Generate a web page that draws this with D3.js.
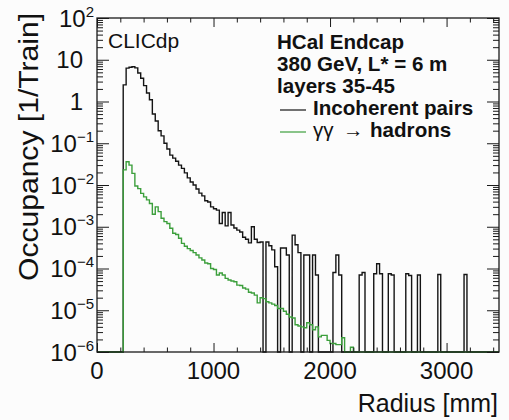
<!DOCTYPE html>
<html><head><meta charset="utf-8">
<script src="https://cdn.jsdelivr.net/npm/d3@7"></script>
<style>
html,body{margin:0;padding:0;background:#fcfcfc;}
svg{display:block;font-family:"Liberation Sans",Arial,Helvetica,sans-serif;}
</style></head><body>
<svg id="chart" width="509" height="420"></svg>
<script>
// Histogram binning in radius (mm)
const binWidth = 25;
const radiusRange = [0, 3450];

// Occupancy per bin [1/Train], 25 mm bins starting at 0
const incoherentPairs = [
  0,0,0,0,0,0,0,0,0,
  2.5,6.3,6.6,6.8,6.4,4.8,3.6,2.4,1.6,1.1,
  0.5,0.34,0.2,0.15,0.10,0.073,0.052,0.044,0.037,0.030,
  0.025,0.0195,0.0148,0.0118,0.0100,0.0080,0.0064,0.0055,0.0042,0.0039,
  0.0030,0.0027,0.0025,0.0012,0.0022,0.00105,0.0022,0.0011,0.00093,0.00083,
  0.00075,0.00056,0.0005,0.00041,0.001,0.0005,0.00042,0.00043,0,0.00043,
  0.00035,0.00028,0.00011,0,0.00031,0.00031,0.00021,0,0.00063,0.00037,
  0.00024,0,0.00021,0.00021,0,0.00021,0.00007,0,0,0,
  0,0,0.00008,0.00021,0.00007,0,0,0,0,0,
  0,0.00007,0.00008,0,0,0,0.000075,0.00013,0.000075,0,
  0,0.000075,0.00007,0,0,0,0,0.000075,0.000068,0,
  0,0.00007,0,0,0,0,0,0,0.000072,0,
  0,0,0,0,0,0,0,0.000072,0,0,
  0,0,0,0,0,0,0,0,0
];
const gammaGammaHadrons = [
  0,0,0,0,0,0,0,0,0,
  0.023,0.036,0.030,0.019,0.0095,0.0082,0.0063,0.0052,0.0044,0.0036,
  0.0020,0.0030,0.0023,0.0016,0.00133,0.0012,0.00092,0.00070,0.00065,0.00053,
  0.00040,0.00034,0.00030,0.00027,0.00024,0.00021,0.00018,0.00016,0.000135,0.00013,
  0.00010,0.000095,0.00007,0.000078,0.00007,0.000058,0.000053,0.00005,0.000048,0.00004,
  0.000039,0.000034,0.000032,0.000027,0.000026,0.000023,0.000015,0.00002,0.000019,0.000016,
  0.000015,0.000014,0.000013,0.000011,0.000011,0.0000095,0.000008,0.0000069,0.0000065,0.0000045,
  0.0000042,0.000004,0.0000038,0.000005,0.0000045,0.0000034,0.000004,0.0000023,0.0000025,0.0000025,
  0.0000019,0.0000016,0.0000016,0.0000015,0.0000015,0.0000022,0,0,0.0000013,0,
  0,0,0,0,0,0,0,0,0,0,
  0,0,0,0,0,0,0,0,0,0,
  0,0,0,0,0,0,0,0,0,0,
  0,0,0,0,0,0,0,0,0,0,
  0,0,0,0,0,0,0,0,0
];

// Axis ticks and labels
const xTickValues = [0, 1000, 2000, 3000];
const xTickLabels = ["0", "1000", "2000", "3000"];
const yTickValues = [1e2, 1e1, 1, 1e-1, 1e-2, 1e-3, 1e-4, 1e-5, 1e-6];
const yTickBase = ["10", "10", "1", "10", "10", "10", "10", "10", "10"];
const yTickExp = ["2", "", "", "\u22121", "\u22122", "\u22123", "\u22124", "\u22125", "\u22126"];

// Texts
const legendHeader = ["HCal Endcap", "380 GeV, L* = 6 m", "layers 35-45"];
const seriesNames = ["Incoherent pairs", "hadrons"];
const seriesColors = ["#141414", "#3c9f3c"];

const svg = d3.select("#chart");
const W = 509, H = 420;
svg.append("rect").attr("width", W).attr("height", H).attr("fill", "#fcfcfc");

const frame = {left: 97, right: 499, top: 18, bottom: 352};
const yMin = 1e-6, yMax = 1e2;

const x = d3.scaleLinear().domain(radiusRange).range([frame.left, frame.right]);
const y = d3.scaleLog().domain([yMin, yMax]).range([frame.bottom, frame.top]);

// Step outline of a histogram, empty bins fall to the frame floor
function stepPoints(vals) {
  const pts = vals.map((v, i) => [i * binWidth, v]);
  pts.push([vals.length * binWidth, vals[vals.length - 1]]);
  return pts;
}
const stepLine = d3.line()
  .x(d => x(d[0]))
  .y(d => y(Math.max(d[1], yMin)))
  .curve(d3.curveStepAfter);

const plot = svg.append("g");
[incoherentPairs, gammaGammaHadrons].forEach((vals, k) => {
  plot.append("path")
    .attr("d", stepLine(stepPoints(vals)))
    .attr("fill", "none")
    .attr("stroke", seriesColors[k])
    .attr("stroke-width", 1.4)
    .attr("stroke-linejoin", "miter");
});

// Ticks on all four sides, pointing inward
const axisColor = "#1a1a1a";
const xMinor = d3.range(radiusRange[0], radiusRange[1], 200).filter(v => !xTickValues.includes(v));
const yAll = y.ticks();
const yMinor = yAll.filter(v => !yTickValues.some(t => Math.abs(Math.log10(t) - Math.log10(v)) < 1e-9));

function tickGroup(axis, transform) {
  const g = svg.append("g").attr("transform", transform).call(axis);
  g.select(".domain").remove();
  g.selectAll("line").attr("stroke", axisColor).attr("stroke-width", 1);
  g.selectAll("text").remove();
  return g;
}
tickGroup(d3.axisBottom(x).tickValues(xTickValues).tickSize(-9).tickSizeOuter(0), `translate(0,${frame.bottom})`);
tickGroup(d3.axisBottom(x).tickValues(xMinor).tickSize(-4.5).tickSizeOuter(0), `translate(0,${frame.bottom})`);
tickGroup(d3.axisTop(x).tickValues(xTickValues).tickSize(-9).tickSizeOuter(0), `translate(0,${frame.top})`);
tickGroup(d3.axisTop(x).tickValues(xMinor).tickSize(-4.5).tickSizeOuter(0), `translate(0,${frame.top})`);
tickGroup(d3.axisLeft(y).tickValues(yTickValues).tickSize(-12).tickSizeOuter(0), `translate(${frame.left},0)`);
tickGroup(d3.axisLeft(y).tickValues(yMinor).tickSize(-6).tickSizeOuter(0), `translate(${frame.left},0)`);
tickGroup(d3.axisRight(y).tickValues(yTickValues).tickSize(-12).tickSizeOuter(0), `translate(${frame.right},0)`);
tickGroup(d3.axisRight(y).tickValues(yMinor).tickSize(-6).tickSizeOuter(0), `translate(${frame.right},0)`);

svg.append("rect")
  .attr("x", frame.left).attr("y", frame.top)
  .attr("width", frame.right - frame.left).attr("height", frame.bottom - frame.top)
  .attr("fill", "none").attr("stroke", axisColor).attr("stroke-width", 1.3);

// X tick labels
svg.append("g").selectAll("text").data(xTickValues).join("text")
  .attr("x", d => x(d))
  .attr("y", 379)
  .attr("text-anchor", "middle")
  .attr("font-size", 24)
  .attr("fill", "#111")
  .text((d, i) => xTickLabels[i]);

// Y tick labels (powers of ten)
const yLab = svg.append("g").selectAll("text").data(yTickValues).join("text")
  .attr("x", (d, i) => yTickExp[i] ? 94 : 83)
  .attr("y", d => y(d) + 8.5)
  .attr("text-anchor", "end")
  .attr("font-size", 24)
  .attr("fill", "#111");
yLab.append("tspan").text((d, i) => yTickBase[i]);
yLab.filter((d, i) => yTickExp[i] !== "")
  .append("tspan")
  .attr("font-size", 15)
  .attr("dy", -10)
  .text(d => yTickExp[yTickValues.indexOf(d)]);

// Axis titles
svg.append("text")
  .attr("x", 498).attr("y", 412)
  .attr("text-anchor", "end")
  .attr("font-size", 25)
  .attr("fill", "#111")
  .text("Radius [mm]");
svg.append("text")
  .attr("transform", "translate(38,13) rotate(-90)")
  .attr("text-anchor", "end")
  .attr("font-size", 28)
  .attr("textLength", 268)
  .attr("lengthAdjust", "spacingAndGlyphs")
  .attr("fill", "#111")
  .text("Occupancy [1/Train]");

// Experiment tag
svg.append("text")
  .attr("x", 108).attr("y", 48)
  .attr("font-size", 21)
  .attr("fill", "#111")
  .text("CLICdp");

// Legend
const legX = 277;
const rowY = [49, 71, 93, 115, 137];
svg.append("g").selectAll("text").data(legendHeader).join("text")
  .attr("x", legX).attr("y", (d, i) => rowY[i])
  .attr("font-size", 20.6)
  .attr("font-weight", "bold")
  .attr("fill", "#111")
  .text(d => d);

[0, 1].forEach(k => {
  const yy = rowY[3 + k];
  svg.append("line")
    .attr("x1", 280).attr("x2", 306)
    .attr("y1", yy - 5).attr("y2", yy - 5)
    .attr("stroke", seriesColors[k]).attr("stroke-width", 1.2);
});
svg.append("text")
  .attr("x", 313).attr("y", rowY[3])
  .attr("font-size", 20.6).attr("font-weight", "bold").attr("fill", "#111")
  .text(seriesNames[0]);
const gg = svg.append("text").attr("y", rowY[4]).attr("font-size", 20.6).attr("fill", "#111");
gg.append("tspan").attr("x", 313).text("\u03b3\u03b3");
gg.append("tspan").attr("x", 343).text("\u2192");
gg.append("tspan").attr("x", 370).attr("font-weight", "bold").text(seriesNames[1]);
</script>
</body></html>
